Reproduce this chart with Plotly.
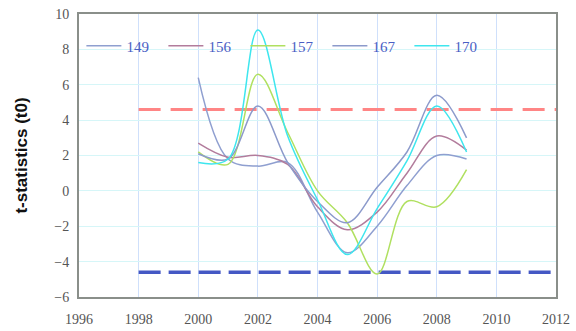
import plotly.graph_objects as go

# Survey years and t-statistics for each station
years = [2000, 2001, 2002, 2003, 2004, 2005, 2006, 2007, 2008, 2009]

s149 = [6.4, 1.8, 1.4, 1.6, -1.2, -3.5, -2.0, 0.3, 2.0, 1.8]
s156 = [2.7, 1.9, 2.0, 1.5, -0.9, -2.2, -1.2, 1.0, 3.1, 2.3]
s157 = [2.2, 1.5, 6.6, 3.3, 0.0, -1.8, -4.7, -0.6, -0.9, 1.2]
s167 = [2.1, 1.8, 4.8, 1.6, -0.6, -1.8, 0.2, 2.2, 5.4, 3.0]
s170 = [1.6, 1.8, 9.1, 3.1, -0.5, -3.6, -1.0, 1.7, 4.8, 2.2]

series_names = ["149", "156", "157", "167", "170"]
series_values = [s149, s156, s157, s167, s170]
series_colors = ["#8f9fd0", "#b27c9c", "#b0e060", "#8c9acb", "#3ee6ee"]

# Critical values of the test statistic
crit_years = [1998, 2012]
crit_upper = [4.6, 4.6]
crit_lower = [-4.6, -4.6]

x_ticks = list(range(1996, 2013, 2))
y_ticks = list(range(-6, 11, 2))

fig = go.Figure()

fig.add_trace(go.Scatter(
    x=crit_years, y=crit_upper, mode="lines", showlegend=False,
    line=dict(color="#ff8585", width=3, dash="22px,10px"), hoverinfo="skip"))
fig.add_trace(go.Scatter(
    x=crit_years, y=crit_lower, mode="lines", showlegend=False,
    line=dict(color="#4458c4", width=3.5, dash="22px,8px"), hoverinfo="skip"))

for name, vals, col in zip(series_names, series_values, series_colors):
    fig.add_trace(go.Scatter(
        x=years, y=vals, mode="lines", name=name,
        line=dict(color=col, width=1.5, shape="spline", smoothing=1.0)))

tick_font = dict(family="Liberation Serif", size=14, color="#555555")

fig.update_layout(
    width=576, height=331,
    margin=dict(l=79, r=20, t=14, b=34),
    paper_bgcolor="white", plot_bgcolor="white",
    xaxis=dict(range=[1996, 2012], tickvals=x_ticks, ticktext=[str(v) for v in x_ticks],
               showgrid=True, gridcolor="#cfe0fb", gridwidth=1,
               showline=True, linecolor="#8a8f8a", linewidth=2, mirror=True,
               ticks="", tickfont=tick_font, zeroline=False, ticklabelstandoff=8,
               automargin=False),
    yaxis=dict(range=[-6, 10], tickvals=y_ticks, ticktext=[("\u2212" + str(-v)) if v < 0 else str(v) for v in y_ticks],
               showgrid=True, gridcolor="#d6f6f8", gridwidth=1,
               showline=True, linecolor="#8a8f8a", linewidth=2, mirror=True,
               ticks="", tickfont=tick_font, zeroline=False, ticklabelstandoff=5,
               automargin=False,
               title=dict(text="t-statistics (t0)", standoff=22,
                          font=dict(family="Liberation Sans", size=17, color="#111111", weight="bold"))),
    legend=dict(orientation="h", x=0.005, y=0.887, xanchor="left", yanchor="middle",
                bgcolor="rgba(0,0,0,0)", itemwidth=35,
                entrywidth=32, entrywidthmode="pixels",
                font=dict(family="Liberation Serif", size=15, color="#4a5ec4")),
    showlegend=True,
)

fig.write_html("out.html")
